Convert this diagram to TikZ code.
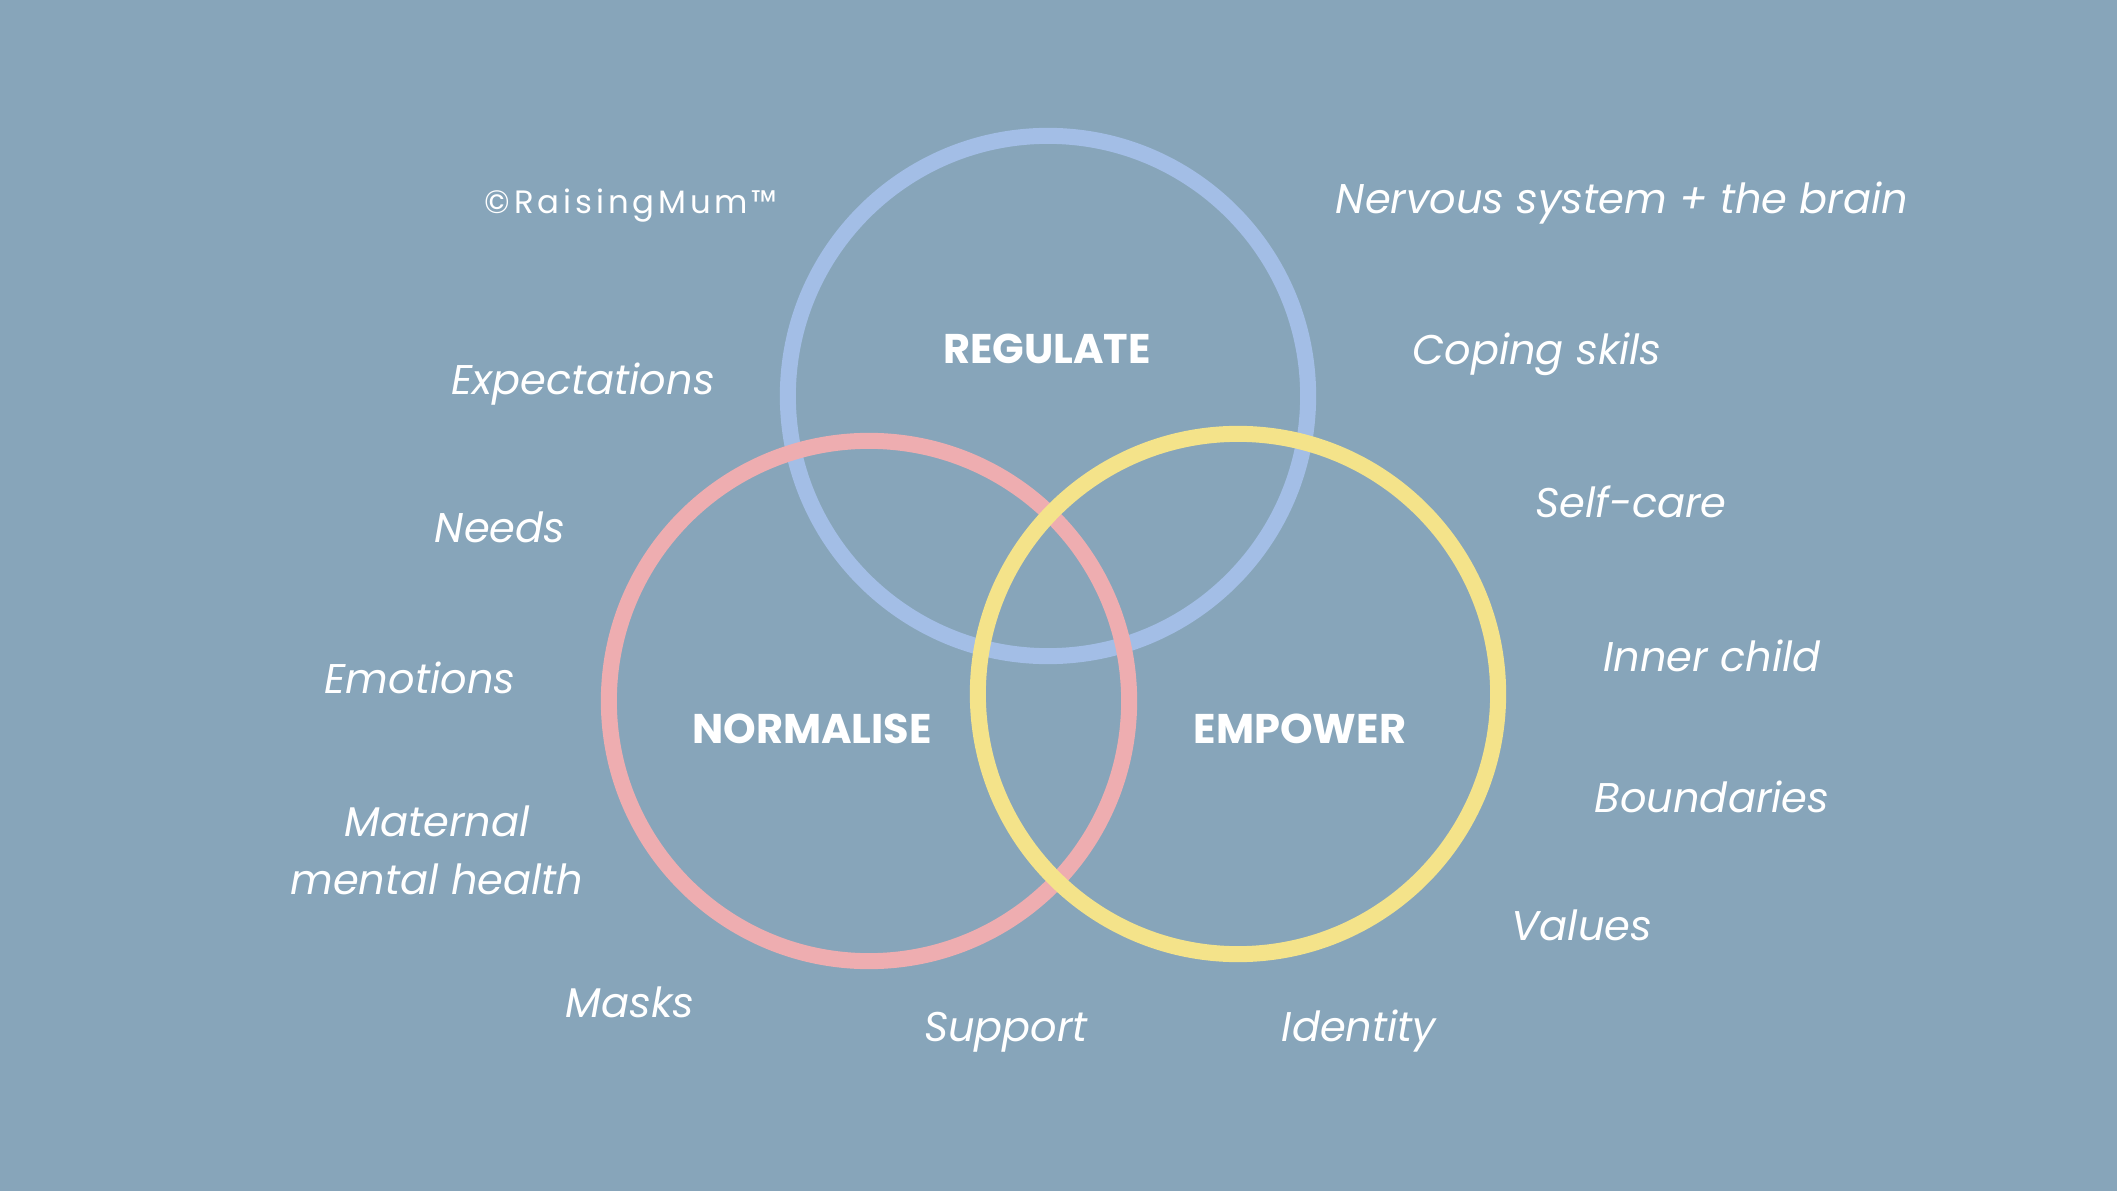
\documentclass[tikz,border=0pt]{standalone}
\usepackage{fontspec}
\setmainfont{Poppins}
\newfontfamily\brandfont[LetterSpace=12]{Poppins}
\definecolor{bgblue}{HTML}{87A5BA}
\definecolor{ringblue}{HTML}{A3BEE6}
\definecolor{ringpink}{HTML}{EEADB0}
\definecolor{ringyellow}{HTML}{F4E38A}
\tikzset{
  ring/.style={circle, draw=#1, line width=0.16cm, minimum size=5.2cm, inner sep=0pt},
  topic/.style={text=white, font=\bfseries\fontsize{11.8}{14}\selectfont},
  item/.style={text=white, font=\itshape\fontsize{11.8}{16.4}\selectfont, align=center}
}
\begin{document}
\begin{tikzpicture}[x=0.01cm, y=-0.01cm]
        \fill[bgblue] (0,0) rectangle (2117,1191);
        \useasboundingbox (0,0) rectangle (2117,1191);

        % kruhy
        \node[ring=ringblue] (regring) at (1048,396) {};
        \node[ring=ringpink] (normring) at (869,701) {};
        \node[ring=ringyellow] (empring) at (1238,694) {};

        \node[topic] (regulate) at (1047,349) {REGULATE};
        \node[topic] (normalise) at (812,729) {NORMALISE};
        \node[topic] (empower) at (1300,729) {EMPOWER};

        \node[text=white, font=\brandfont\fontsize{9.2}{12}\selectfont] (brand) at (631,206) {©RaisingMum™};

        % vlevo
        \node[item] (expect) at (583,384) {Expectations};
        \node[item] (needs) at (500,527) {Needs};
        \node[item] (emotions) at (420,678) {Emotions};
        \node[item] (maternal) at (437,850) {Maternal\\mental health};
        \node[item] (masks) at (630,1002) {Masks};
        \node[item] (support) at (1006,1032) {Support};

        % vpravo
        \node[item] (nervous) at (1622,203) {Nervous system + the brain};
        \node[item] (coping) at (1537,354) {Coping skils};
        \node[item] (selfcare) at (1631,502) {Self-care};
        \node[item] (inner) at (1712,656) {Inner child};
        \node[item] (bounds) at (1712,797) {Boundaries};
        \node[item] (values) at (1582,925) {Values};
        \node[item] (identity) at (1359,1031) {Identity};
\end{tikzpicture}
\end{document}
